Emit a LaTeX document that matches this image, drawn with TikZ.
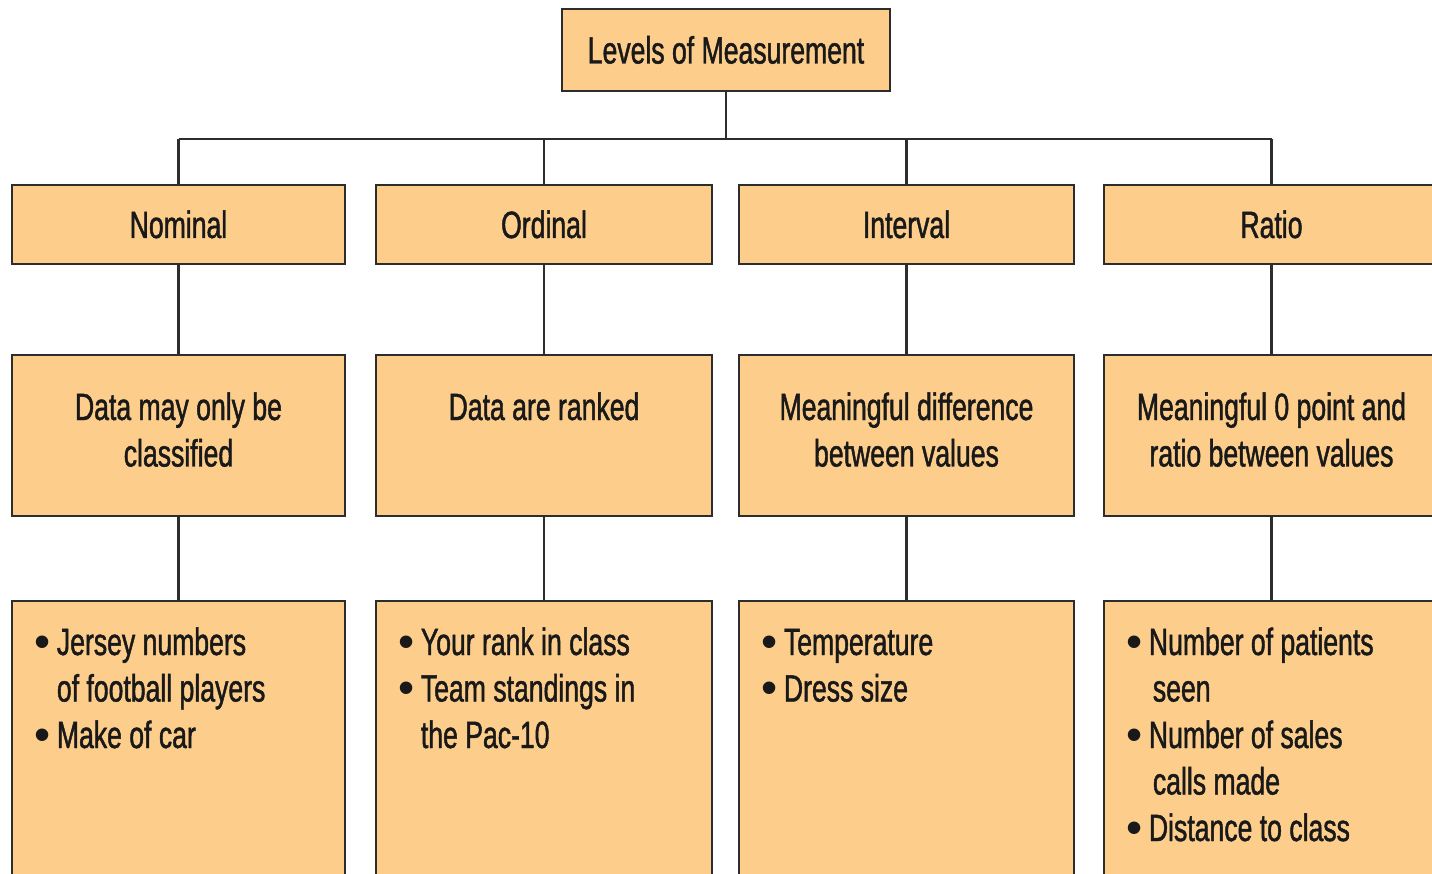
\documentclass[tikz,border=0pt]{standalone}
\usepackage{fontspec}
\setmainfont{Liberation Sans}[FakeStretch=0.70,FakeBold=1.2]
\newfontfamily\bulfont{Liberation Sans}
\definecolor{boxfill}{RGB}{253,206,139}
\definecolor{edgec}{RGB}{45,45,45}
\definecolor{ink}{RGB}{25,25,25}
\newcommand{\bitem}{\makebox[22.7pt][l]{\raisebox{-2pt}{\fontsize{46}{46.5}\bulfont •}}}
\newcommand{\bcont}{\hspace*{22.7pt}}
\tikzset{
  box/.style={draw=edgec, line width=2.8pt, fill=boxfill, anchor=north west, inner sep=0pt, outer sep=0pt},
  conn/.style={draw=edgec, line width=2.5pt},
  lbl/.style={inner sep=0pt, text=ink, font=\fontsize{38}{46.5}\selectfont},
}
\begin{document}
\begin{tikzpicture}[x=1pt,y=-1pt]
\useasboundingbox (0,0) rectangle (1432,874);
\clip (0,0) rectangle (1432,874);
\fill[white] (0,0) rectangle (1432,874);
\coordinate (bus) at (0,139);
% boxes
\node[box, minimum width=328pt, minimum height=82pt] (top) at (562,9) {};
\node[box, minimum width=333pt, minimum height=79pt] (nom) at (12,185) {};
\node[box, minimum width=336pt, minimum height=79pt] (ord) at (376,185) {};
\node[box, minimum width=335pt, minimum height=79pt] (int) at (739,185) {};
\node[box, minimum width=335pt, minimum height=79pt] (rat) at (1104,185) {};
\node[box, minimum width=333pt, minimum height=161pt] (nom3) at (12,355) {};
\node[box, minimum width=336pt, minimum height=161pt] (ord3) at (376,355) {};
\node[box, minimum width=335pt, minimum height=161pt] (int3) at (739,355) {};
\node[box, minimum width=335pt, minimum height=161pt] (rat3) at (1104,355) {};
\node[box, minimum width=333pt, minimum height=300pt] (nom4) at (12,601) {};
\node[box, minimum width=336pt, minimum height=300pt] (ord4) at (376,601) {};
\node[box, minimum width=335pt, minimum height=300pt] (int4) at (739,601) {};
\node[box, minimum width=335pt, minimum height=300pt] (rat4) at (1104,601) {};
% connectors
\draw[conn] (top.south) -- (top.south |- bus);
\draw[conn] (nom.north |- bus) -- (rat.north |- bus);
\foreach \n in {nom,ord,int,rat}{
  \draw[conn] (\n.north |- bus) -- (\n.north);
  \draw[conn] (\n.south) -- (\n3.north);
  \draw[conn] (\n3.south) -- (\n4.north);
}
% texts
\node[lbl, anchor=base, yshift=-13.5pt] (ttop) at (top.center) {Levels of Measurement};
\node[lbl, anchor=base, yshift=-13.5pt] (tnom) at (nom.center) {Nominal};
\node[lbl, anchor=base, yshift=-13.5pt] (tord) at (ord.center) {Ordinal};
\node[lbl, anchor=base, yshift=-13.5pt] (tint) at (int.center) {Interval};
\node[lbl, anchor=base, yshift=-13.5pt] (trat) at (rat.center) {Ratio};
\node[lbl, anchor=base, yshift=-65pt] (tnom3) at (nom3.north) {\begin{tabular}[t]{@{}c@{}}Data may only be\\classified\end{tabular}};
\node[lbl, anchor=base, yshift=-65pt] (tord3) at (ord3.north) {\begin{tabular}[t]{@{}c@{}}Data are ranked\end{tabular}};
\node[lbl, anchor=base, yshift=-65pt] (tint3) at (int3.north) {\begin{tabular}[t]{@{}c@{}}Meaningful difference\\between values\end{tabular}};
\node[lbl, anchor=base, yshift=-65pt] (trat3) at (rat3.north) {\begin{tabular}[t]{@{}c@{}}Meaningful 0 point and\\ratio between values\end{tabular}};
\node[lbl, anchor=base west, xshift=22pt, yshift=-54pt] (tnom4) at (nom4.north west) {\begin{tabular}[t]{@{}l@{}}\bitem Jersey numbers\\\bcont of football players\\\bitem Make of car\end{tabular}};
\node[lbl, anchor=base west, xshift=22pt, yshift=-54pt] (tord4) at (ord4.north west) {\begin{tabular}[t]{@{}l@{}}\bitem Your rank in class\\\bitem Team standings in\\\bcont the Pac-10\end{tabular}};
\node[lbl, anchor=base west, xshift=22pt, yshift=-54pt] (tint4) at (int4.north west) {\begin{tabular}[t]{@{}l@{}}\bitem Temperature\\\bitem Dress size\end{tabular}};
\node[lbl, anchor=base west, xshift=22pt, yshift=-54pt] (trat4) at (rat4.north west) {\begin{tabular}[t]{@{}l@{}}\bitem Number of patients\\\bcont\hspace*{4pt}seen\\\bitem Number of sales\\\bcont\hspace*{4pt}calls made\\\bitem Distance to class\end{tabular}};
\end{tikzpicture}
\end{document}
